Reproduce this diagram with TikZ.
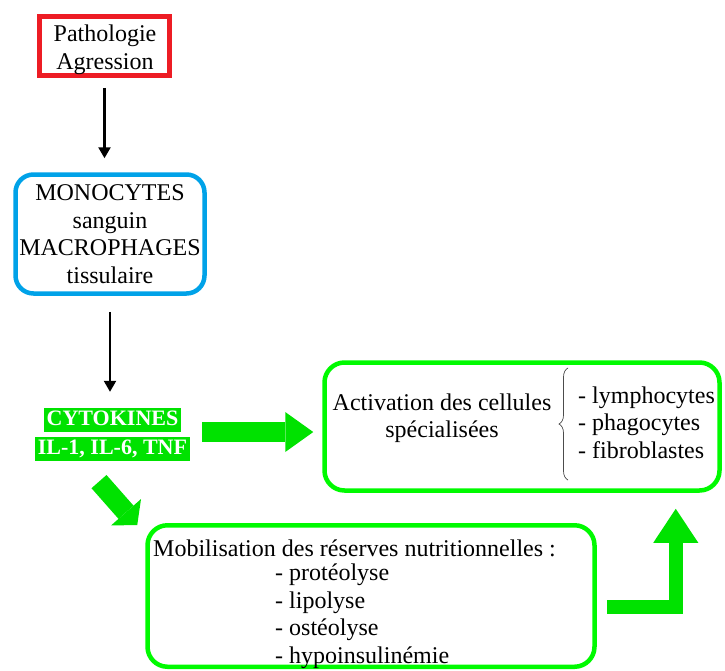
\documentclass[tikz,border=0pt]{standalone}
\usepackage{fontspec}
\setmainfont{Liberation Serif}
\usepackage{tikz}
\usetikzlibrary{arrows.meta,positioning,calc,decorations.pathreplacing}
\definecolor{pared}{RGB}{237,28,36}
\definecolor{pablue}{RGB}{0,162,232}
\definecolor{pagreen}{RGB}{0,250,0}
\definecolor{padarkgreen}{RGB}{0,226,0}
\tikzstyle{box} = [rectangle, line width=4.5pt, align=center, inner sep=0pt]
\tikzstyle{txt} = [inner sep=0pt]
\tikzstyle{cyto} = [fill=padarkgreen, text=white, font=\fontsize{22}{24}\selectfont\bfseries, inner xsep=3pt, inner ysep=0pt, text height=17.5pt, text depth=6.5pt]
\tikzstyle{arrow} = [line width=2.3pt, -{Triangle[width=12pt,length=11pt]}]
\tikzstyle{bigarrow} = [line width=20pt, color=padarkgreen, -{Triangle[width=40pt,length=28pt,line width=0pt]}]

\begin{document}
\begin{tikzpicture}[x=1pt, y=-1pt, font=\fontsize{24}{27.5}\selectfont]
\useasboundingbox (0,0) rectangle (725,670);
\node (patho) [box, draw=pared, minimum width=130pt, minimum height=59pt] at (104.5,46) {};
\node (pathotext) [txt, align=center] at (105,50) {Pathologie\\Agression};
\node (mono) [box, draw=pablue, rounded corners=18pt, minimum width=189pt, minimum height=119pt] at (110,234) {MONOCYTES\\sanguin\\MACROPHAGES\\tissulaire};
\node (cyto1) [cyto] at (112.5,420) {CYTOKINES};
\node (cyto2) [cyto, below=5pt of cyto1] {IL-1, IL-6, TNF};
% activation
\node (act) [box, draw=pagreen, rounded corners=20pt, minimum width=395pt, minimum height=128pt] at (522,426.5) {};
\node (acttext) [txt, align=center] at (442,418) {Activation des cellules\\spécialisées};
\node (actlist) [txt, align=left, anchor=west] at (578,422.5) {- lymphocytes\\- phagocytes\\- fibroblastes};
\draw[decorate, decoration={brace, amplitude=9pt}, line width=0.7pt, color=black!70] ($(actlist.west)+(-10,57.5)$) -- ($(actlist.west)+(-10,-54.5)$);
% mobilisation
\node (mob) [box, draw=pagreen, rounded corners=20pt, minimum width=447pt, minimum height=141.5pt] at (371,596) {};
\node (mobtitle) [txt, anchor=west] at (153,548) {Mobilisation des réserves nutritionnelles :};
\node (moblist) [txt, align=left, anchor=west] at (275,616) {- protéolyse\\- lipolyse\\- ostéolyse\\- hypoinsulinémie};
% arrows
\draw[arrow, shorten <=10pt, shorten >=14pt] (patho.south) -- (patho.south |- mono.north);
\draw[arrow, shorten <=16pt, shorten >=16pt] (mono.south) -- (mono.south |- cyto1.north);
\draw[bigarrow] ($(cyto2.east |- act.west)+(12,5.5)$) -- ($(act.west)+(-9,5.5)$);
\draw[bigarrow, -{Triangle[width=40pt,length=17pt,line width=0pt]}] ($(cyto2.south)+(-13.5,20)$) -- ($(mob.north west)+(-8,2)$);
\draw[bigarrow, line width=14pt, -{Triangle[width=45pt,length=34pt,line width=0pt]}] ($(mob.east)+(10,11)$) -| ($(act.south east)+(-46,16)$);
\end{tikzpicture}
\end{document}
